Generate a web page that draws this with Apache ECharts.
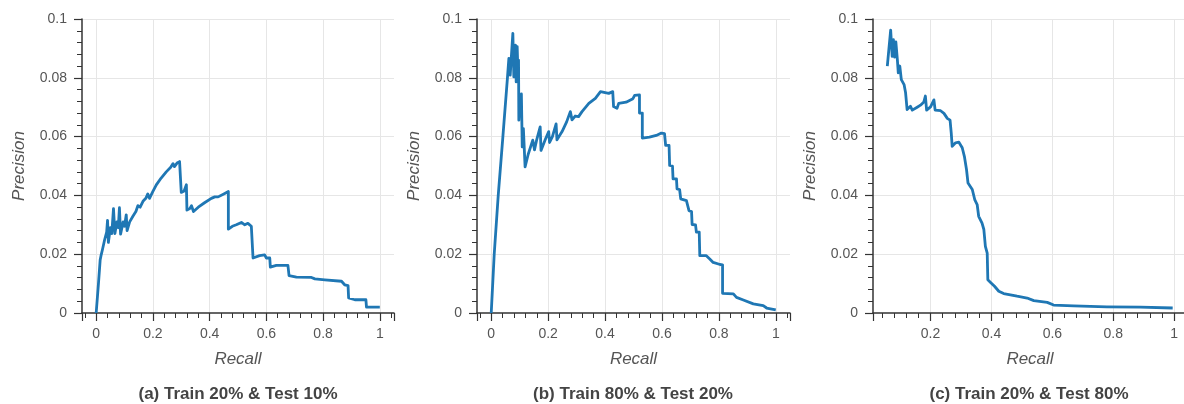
<!DOCTYPE html>
<html>
<head>
<meta charset="utf-8">
<script src="https://cdn.jsdelivr.net/npm/echarts@6/dist/echarts.min.js"></script>
<style>
  html, body { margin: 0; padding: 0; background: #fff; }
  #chart { width: 1184px; height: 404px; }
</style>
</head>
<body>
<div id="chart"></div>
<script>
// ---- Data ----
const captions = ['(a) Train 20% & Test 10%', '(b) Train 80% & Test 20%', '(c) Train 20% & Test 80%'];
const yTicks = [0, 0.02, 0.04, 0.06, 0.08, 0.1];

const recallA = [0, 0.008, 0.014, 0.017, 0.022, 0.03, 0.037, 0.04, 0.043, 0.05, 0.055, 0.061, 0.066, 0.073, 0.078, 0.082, 0.086, 0.095, 0.1, 0.106, 0.109, 0.118, 0.13, 0.14, 0.147, 0.155, 0.165, 0.175, 0.182, 0.188, 0.2, 0.212, 0.229, 0.247, 0.262, 0.271, 0.276, 0.285, 0.294, 0.3, 0.3, 0.31, 0.318, 0.32, 0.33, 0.336, 0.343, 0.36, 0.382, 0.406, 0.418, 0.425, 0.43, 0.45, 0.466, 0.466, 0.48, 0.494, 0.512, 0.524, 0.535, 0.547, 0.553, 0.553, 0.576, 0.594, 0.6, 0.612, 0.614, 0.635, 0.676, 0.68, 0.706, 0.759, 0.771, 0.806, 0.81, 0.865, 0.876, 0.888, 0.89, 0.912, 0.951, 0.953, 1.0];
const precisionA = [0, 0.010, 0.018, 0.0195, 0.0215, 0.025, 0.0275, 0.0315, 0.024, 0.029, 0.027, 0.0355, 0.027, 0.031, 0.029, 0.0358, 0.0268, 0.031, 0.0295, 0.0334, 0.028, 0.031, 0.033, 0.0345, 0.0365, 0.036, 0.038, 0.039, 0.0405, 0.039, 0.0414, 0.0436, 0.0459, 0.048, 0.0495, 0.0508, 0.0498, 0.051, 0.0515, 0.0517, 0.041, 0.0415, 0.0436, 0.035, 0.0355, 0.0365, 0.0345, 0.036, 0.0375, 0.039, 0.0395, 0.0398, 0.0395, 0.0405, 0.0413, 0.0285, 0.0295, 0.030, 0.0308, 0.030, 0.0305, 0.0295, 0.0295, 0.0187, 0.0195, 0.0198, 0.0187, 0.0187, 0.0156, 0.0162, 0.0162, 0.0127, 0.0122, 0.0121, 0.0116, 0.0113, 0.0108, 0.0108, 0.0096, 0.0093, 0.0051, 0.0045, 0.0045, 0.002, 0.002];

const recallB = [0, 0.0105, 0.0246, 0.041, 0.057, 0.062, 0.0667, 0.07, 0.076, 0.0795, 0.083, 0.0854, 0.0877, 0.0912, 0.0947, 0.096, 0.097, 0.1, 0.103, 0.106, 0.109, 0.113, 0.119, 0.13, 0.14, 0.146, 0.152, 0.16, 0.172, 0.175, 0.19, 0.202, 0.205, 0.215, 0.228, 0.231, 0.249, 0.265, 0.278, 0.284, 0.295, 0.307, 0.319, 0.343, 0.366, 0.384, 0.413, 0.427, 0.43, 0.442, 0.448, 0.474, 0.498, 0.504, 0.521, 0.521, 0.531, 0.531, 0.556, 0.58, 0.598, 0.609, 0.613, 0.625, 0.627, 0.637, 0.639, 0.651, 0.653, 0.662, 0.666, 0.686, 0.693, 0.695, 0.704, 0.706, 0.718, 0.721, 0.731, 0.733, 0.756, 0.768, 0.78, 0.804, 0.813, 0.813, 0.851, 0.862, 0.886, 0.921, 0.956, 0.968, 1.0];
const precisionB = [0, 0.02, 0.04, 0.06, 0.08, 0.0866, 0.0809, 0.086, 0.0951, 0.0803, 0.087, 0.0911, 0.0786, 0.0906, 0.0792, 0.086, 0.0656, 0.0741, 0.067, 0.0745, 0.0565, 0.0627, 0.0497, 0.054, 0.057, 0.0588, 0.0555, 0.059, 0.0633, 0.0553, 0.059, 0.0617, 0.058, 0.060, 0.0643, 0.0589, 0.0617, 0.065, 0.0685, 0.0657, 0.067, 0.0668, 0.0685, 0.0713, 0.073, 0.0753, 0.0747, 0.0753, 0.0702, 0.0696, 0.0713, 0.0717, 0.0729, 0.074, 0.0742, 0.068, 0.068, 0.0595, 0.0598, 0.0604, 0.0612, 0.061, 0.057, 0.057, 0.0502, 0.050, 0.0456, 0.0456, 0.0422, 0.042, 0.0388, 0.0382, 0.038, 0.0348, 0.0345, 0.0301, 0.030, 0.0275, 0.0275, 0.0195, 0.0195, 0.0184, 0.0172, 0.0165, 0.0164, 0.0067, 0.0065, 0.0053, 0.0044, 0.0031, 0.0025, 0.0017, 0.0011];

const recallC = [0.058, 0.063, 0.069, 0.074, 0.078, 0.082, 0.086, 0.091, 0.094, 0.099, 0.104, 0.113, 0.118, 0.123, 0.134, 0.14, 0.145, 0.156, 0.167, 0.178, 0.183, 0.187, 0.2, 0.211, 0.215, 0.233, 0.244, 0.255, 0.264, 0.268, 0.271, 0.282, 0.293, 0.304, 0.311, 0.318, 0.323, 0.337, 0.345, 0.353, 0.358, 0.369, 0.375, 0.38, 0.386, 0.388, 0.397, 0.41, 0.424, 0.44, 0.462, 0.484, 0.517, 0.539, 0.583, 0.604, 0.67, 0.779, 0.889, 0.995];
const precisionC = [0.084, 0.0896, 0.0962, 0.0873, 0.093, 0.087, 0.0922, 0.0862, 0.0817, 0.084, 0.0794, 0.0777, 0.0749, 0.0692, 0.0703, 0.069, 0.0686, 0.0700, 0.0707, 0.0718, 0.0738, 0.069, 0.0701, 0.0725, 0.069, 0.0688, 0.0679, 0.0662, 0.0656, 0.0611, 0.0567, 0.0579, 0.0581, 0.0562, 0.0533, 0.0488, 0.0442, 0.042, 0.0386, 0.0369, 0.0329, 0.0306, 0.0284, 0.0227, 0.0204, 0.0113, 0.0104, 0.0091, 0.0074, 0.0066, 0.0062, 0.0057, 0.0051, 0.0042, 0.0036, 0.0027, 0.0024, 0.0021, 0.002, 0.0017];

const xRanges = [[-0.05, 1.05], [-0.05, 1.05], [0.011, 1.042]];
const seriesRecall = [recallA, recallB, recallC];
const seriesPrecision = [precisionA, precisionB, precisionC];

// ---- Layout / style ----
const FONT = "'Liberation Sans', Arial, Helvetica, sans-serif";
const panels = [
  { left: 82, width: 312 },
  { left: 477, width: 313 },
  { left: 873, width: 314 }
];
const TOP = 19, HEIGHT = 294;
const axisColor = '#333';
const labelColor = '#555';
const gridColor = '#e6e6e6';

const chart = echarts.init(document.getElementById('chart'), null, { renderer: 'canvas' });

const grid = [], xAxis = [], yAxis = [], series = [], title = [];
panels.forEach((p, i) => {
  grid.push({ left: p.left, width: p.width, top: TOP, height: HEIGHT, containLabel: false, outerBoundsMode: 'none' });
  xAxis.push({
    type: 'value', gridIndex: i,
    min: xRanges[i][0], max: xRanges[i][1], splitNumber: 5,
    name: 'Recall', nameLocation: 'middle', nameGap: 38,
    nameTextStyle: { fontFamily: FONT, fontStyle: 'italic', fontSize: 17, color: labelColor },
    axisLine: { show: true, onZero: false, lineStyle: { color: axisColor, width: 1.5 } },
    axisTick: { show: true, length: 8, lineStyle: { color: axisColor, width: 1.2 } },
    minorTick: { show: true, splitNumber: 5, length: 5, lineStyle: { color: axisColor, width: 1 } },
    axisLabel: { fontFamily: FONT, fontSize: 14, color: labelColor, margin: 14, showMinLabel: false, showMaxLabel: false },
    splitLine: { show: true, showMinLine: false, showMaxLine: false, lineStyle: { color: gridColor, width: 1 } }
  });
  yAxis.push({
    type: 'value', gridIndex: i,
    min: yTicks[0], max: yTicks[yTicks.length - 1], interval: 0.02,
    name: 'Precision', nameLocation: 'middle', nameGap: 54,
    nameTextStyle: { fontFamily: FONT, fontStyle: 'italic', fontSize: 17, color: labelColor },
    axisLine: { show: true, onZero: false, lineStyle: { color: axisColor, width: 1.5 } },
    axisTick: { show: true, length: 8, lineStyle: { color: axisColor, width: 1.2 } },
    minorTick: { show: true, splitNumber: 5, length: 5, lineStyle: { color: axisColor, width: 1 } },
    axisLabel: { fontFamily: FONT, fontSize: 14, color: labelColor, margin: 15 },
    splitLine: { show: true, showMinLine: false, lineStyle: { color: gridColor, width: 1 } }
  });
  series.push({
    type: 'line', xAxisIndex: i, yAxisIndex: i,
    data: seriesRecall[i].map((r, k) => [r, seriesPrecision[i][k]]),
    showSymbol: false, symbol: 'none', smooth: false, clip: true,
    lineStyle: { color: '#1f77b4', width: 2.8, join: 'round' },
    itemStyle: { color: '#1f77b4' }
  });
  title.push({
    text: captions[i], left: p.left + 156, top: 386, textAlign: 'center', padding: 0,
    textStyle: { fontFamily: FONT, fontWeight: 'bold', fontSize: 17, color: '#444' }
  });
});

chart.setOption({
  animation: false,
  backgroundColor: '#fff',
  title, grid, xAxis, yAxis, series
});
</script>
</body>
</html>
